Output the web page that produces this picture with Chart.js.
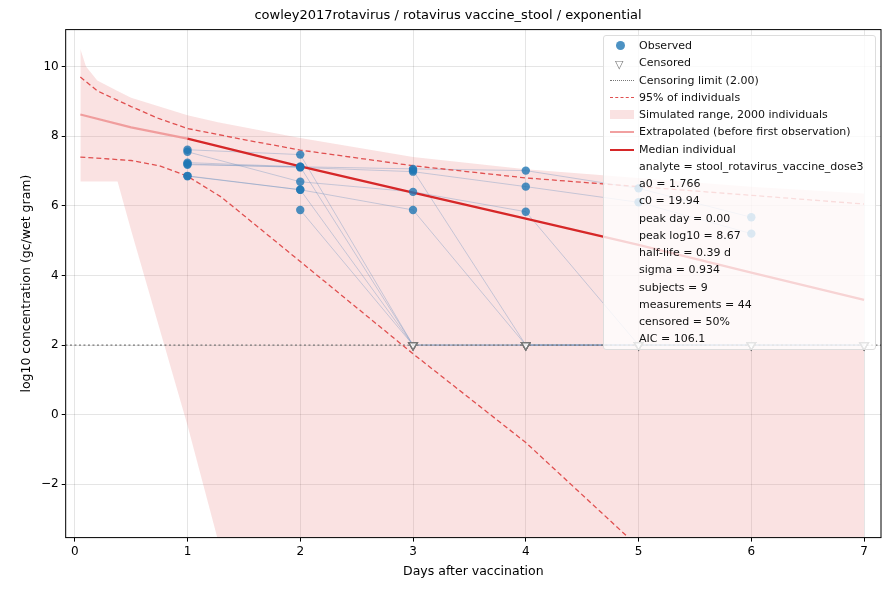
<!DOCTYPE html>
<html><head><meta charset="utf-8">
<script src="https://cdn.jsdelivr.net/npm/chart.js@4.4.0/dist/chart.umd.min.js"></script>
<style>
body{margin:0;background:#fff;font-family:"DejaVu Sans",sans-serif}
#wrap{position:relative;width:890px;height:590px}
#leg{position:absolute;left:603px;top:35px;width:273px;height:315px;background:rgba(255,255,255,0.8);border:1px solid #ddd;border-radius:3px;font-size:11px;color:#111;box-sizing:border-box;padding-top:1px}
#leg div{height:17.25px;line-height:17.25px;position:relative;padding-left:35px;white-space:nowrap}
#leg span.k{position:absolute;left:6px;top:8px;width:24px}
</style></head><body>
<div id="wrap"><canvas id="c" width="890" height="590"></canvas>
<div id="leg"></div></div>
<script>
const xTicks=[0,1,2,3,4,5,6,7];
const yTicks=[-2,0,2,4,6,8,10];
const censorLimit=2.0;
// subjects: [day, value, censored(1/0)]
const subjA=[[1,7.61,0],[2,7.47,0],[3,2,1]];
const subjB=[[1,7.55,0],[2,6.69,0],[3,6.40,0],[4,5.83,0],[5,2,1],[6,2,1]];
const subjC=[[1,7.24,0],[2,7.12,0],[3,7.06,0],[4,7.01,0],[5,6.5,0],[6,5.67,0]];
const subjD=[[1,7.18,0],[2,7.12,0],[3,2,1],[4,2,1],[5,2,1]];
const subjE=[[1,6.86,0],[2,6.46,0],[3,5.88,0],[4,2,1],[5,2,1],[6,2,1],[7,2,1]];
const subjF=[[2,5.88,0],[3,2,1],[4,2,1],[5,2,1],[6,2,1],[7,2,1]];
const subjG=[[1,7.20,0],[2,7.10,0],[3,6.98,0],[4,6.55,0],[5,6.1,0],[6,5.2,0]];
const subjH=[[3,7.02,0],[4,2,1],[5,2,1],[6,2,1],[7,2,1]];
const subjI=[[1,6.85,0],[2,6.46,0],[3,2,1],[4,2,1],[5,2,1],[6,2,1],[7,2,1]];
const subjects=[subjA,subjB,subjC,subjD,subjE,subjF,subjG,subjH,subjI];
const extrapX=[0.05,0.5,1];
const extrapY=[8.62,8.25,7.93];
const medianX=[1,2,3,4,5,6,7];
const medianY=[7.93,7.13,6.38,5.63,4.88,4.08,3.30];
const upperX=[0.05,0.2,0.5,0.75,1,1.5,2,3,4,5,6,7];
const upperY=[9.7,9.3,8.85,8.5,8.22,7.9,7.6,7.15,6.8,6.55,6.3,6.05];
const lowerX=[0.05,0.5,0.75,1,1.3,2,3,4,4.9];
const lowerY=[7.4,7.3,7.15,6.85,6.25,4.4,1.75,-0.8,-3.5];
const simX=[0.05,0.1,0.2,0.38,0.5,1,1.27,2,3,4,5,6,7];
const simHi=[10.5,10.0,9.6,9.3,9.1,8.6,8.4,7.95,7.4,7.05,6.8,6.55,6.35];
const simLo=[6.7,6.7,6.7,6.7,5.3,-0.3,-3.6,-12,-12,-12,-12,-12,-12];

const zip=(xs,ys)=>xs.map((x,i)=>({x,y:ys[i]}));
const ds=[];
ds.push({data:zip(simX,simHi),borderWidth:0,pointRadius:0,fill:'+1',backgroundColor:'rgba(230,110,110,0.2)',order:10});
ds.push({data:zip(simX,simLo),borderWidth:0,pointRadius:0,fill:false,order:10});
subjects.forEach(s=>ds.push({data:s.map(p=>({x:p[0],y:p[1]})),borderColor:'rgba(100,140,190,0.35)',borderWidth:1,pointRadius:0,order:8}));
ds.push({data:[{x:-1,y:censorLimit},{x:8,y:censorLimit}],borderColor:'#777',borderWidth:1.3,borderDash:[2,2.5],pointRadius:0,order:7});
ds.push({data:zip(upperX,upperY),borderColor:'#e05050',borderWidth:1.3,borderDash:[5,3],pointRadius:0,order:6});
ds.push({data:zip(lowerX,lowerY),borderColor:'#e05050',borderWidth:1.3,borderDash:[5,3],pointRadius:0,order:6});
ds.push({data:zip(extrapX,extrapY),borderColor:'rgba(240,150,150,0.9)',borderWidth:2.2,pointRadius:0,order:5});
ds.push({data:zip(medianX,medianY),borderColor:'#d62728',borderWidth:2.3,pointRadius:0,order:4});
const obs=[],cen=[];
subjects.forEach(s=>s.forEach(p=>(p[2]?cen:obs).push({x:p[0],y:p[1]})));
ds.push({type:'scatter',data:obs,pointRadius:4.2,backgroundColor:'rgba(31,119,180,0.8)',borderWidth:0,order:2});
ds.push({type:'scatter',data:cen,pointStyle:'triangle',rotation:180,pointRadius:5,backgroundColor:'rgba(255,255,255,0.3)',borderColor:'#777',borderWidth:1.2,order:1});

const frame={id:'frame',afterDraw(c){const a=c.chartArea,x=c.ctx;x.save();x.strokeStyle='#000';x.lineWidth=1;x.strokeRect(a.left,a.top,a.right-a.left,a.bottom-a.top);x.restore();}};
Chart.defaults.font.family='"DejaVu Sans", sans-serif';
Chart.defaults.color='#111';
new Chart(document.getElementById('c'),{type:'line',data:{datasets:ds},plugins:[frame],
options:{responsive:false,animation:false,layout:{padding:{left:15,right:9,top:0,bottom:7}},
plugins:{legend:{display:false},tooltip:{enabled:false},title:{display:true,text:'cowley2017rotavirus / rotavirus vaccine_stool / exponential',font:{size:13,weight:'normal'},padding:{top:8,bottom:6},color:'#000'}},
scales:{x:{type:'linear',min:-0.08,max:7.15,afterBuildTicks(s){s.ticks=xTicks.map(v=>({value:v}));},ticks:{font:{size:12},color:'#000',maxRotation:0},grid:{color:'rgba(0,0,0,0.1)',tickColor:'#000',tickLength:4},title:{display:true,text:'Days after vaccination',font:{size:12.5},color:'#000',padding:{top:2}}},
y:{type:'linear',min:-3.53,max:11.06,afterBuildTicks(s){s.ticks=yTicks.map(v=>({value:v}));},ticks:{font:{size:12},color:'#000',callback:v=>String(v).replace('-','\u2212')},grid:{color:'rgba(0,0,0,0.1)',tickColor:'#000',tickLength:4},title:{display:true,text:'log10 concentration (gc/wet gram)',font:{size:12.5},color:'#000'}}}}});

const legItems=[
['<span class="k" style="top:4px;left:12px;width:9px;height:9px;border-radius:50%;background:rgba(31,119,180,0.8)"></span>','Observed'],
['<span class="k" style="top:2px;left:11px;width:auto;color:#777;font-size:11px">&#9661;</span>','Censored'],
['<span class="k" style="border-top:1.5px dotted #777"></span>','Censoring limit (2.00)'],
['<span class="k" style="border-top:1.5px dashed #e05050"></span>','95% of individuals'],
['<span class="k" style="top:4px;height:9px;background:rgba(230,110,110,0.2)"></span>','Simulated range, 2000 individuals'],
['<span class="k" style="border-top:2.5px solid rgba(240,150,150,0.9)"></span>','Extrapolated (before first observation)'],
['<span class="k" style="border-top:2.5px solid #d62728"></span>','Median individual'],
['','analyte = stool_rotavirus_vaccine_dose3'],['','a0 = 1.766'],['','c0 = 19.94'],['','peak day = 0.00'],['','peak log10 = 8.67'],['','half-life = 0.39 d'],['','sigma = 0.934'],['','subjects = 9'],['','measurements = 44'],['','censored = 50%'],['','AIC = 106.1']];
document.getElementById('leg').innerHTML=legItems.map(i=>'<div>'+i[0]+i[1]+'</div>').join('');
</script></body></html>
